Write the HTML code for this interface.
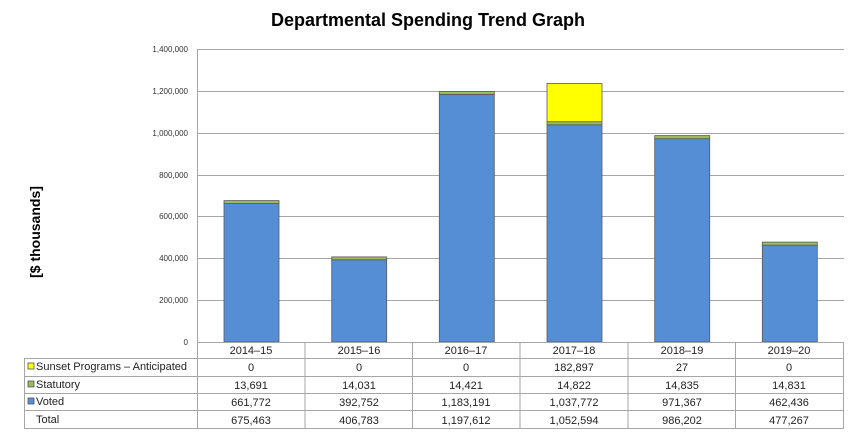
<!DOCTYPE html>
<html><head><meta charset="utf-8"><style>
html,body{margin:0;padding:0;background:#fff;}
svg{display:block;font-family:"Liberation Sans",Arial,sans-serif;}
</style></head><body>
<svg width="857" height="434" viewBox="0 0 857 434" xmlns="http://www.w3.org/2000/svg">
<text x="428" y="26" text-anchor="middle" font-size="18" font-weight="bold" fill="#000">Departmental Spending Trend Graph</text>
<text transform="translate(40,232) rotate(-90)" text-anchor="middle" font-size="14" font-weight="bold" fill="#000">[$ thousands]</text>
<g stroke="#a6a6a6" stroke-width="1">
<line x1="197" y1="49.5" x2="844" y2="49.5"/>
<line x1="197" y1="91.5" x2="844" y2="91.5"/>
<line x1="197" y1="133.5" x2="844" y2="133.5"/>
<line x1="197" y1="175.5" x2="844" y2="175.5"/>
<line x1="197" y1="216.5" x2="844" y2="216.5"/>
<line x1="197" y1="258.5" x2="844" y2="258.5"/>
<line x1="197" y1="300.5" x2="844" y2="300.5"/>
<line x1="197.5" y1="49" x2="197.5" y2="342"/>
</g>
<g font-size="8" fill="#333" text-anchor="end">
<text x="188" y="52">1,400,000</text>
<text x="188" y="94">1,200,000</text>
<text x="188" y="136">1,000,000</text>
<text x="188" y="178">800,000</text>
<text x="188" y="219">600,000</text>
<text x="188" y="261">400,000</text>
<text x="188" y="303">200,000</text>
<text x="188" y="345">0</text>
</g>
<g stroke="#5a5a5a" stroke-width="0.8">
<rect x="224" y="203.5" width="55" height="138.5" fill="#558ed5"/>
<rect x="224" y="200.6" width="55" height="2.9" fill="#9bbb59"/>
<rect x="331.7" y="259.8" width="55" height="82.2" fill="#558ed5"/>
<rect x="331.7" y="256.9" width="55" height="2.9" fill="#9bbb59"/>
<rect x="439.3" y="94.4" width="55" height="247.6" fill="#558ed5"/>
<rect x="439.3" y="91.4" width="55" height="3" fill="#9bbb59"/>
<rect x="547" y="124.8" width="55" height="217.2" fill="#558ed5"/>
<rect x="547" y="121.7" width="55" height="3.1" fill="#9bbb59"/>
<rect x="547" y="83.4" width="55" height="38.3" fill="#ffff00"/>
<rect x="654.7" y="138.7" width="55" height="203.3" fill="#558ed5"/>
<rect x="654.7" y="135.6" width="55" height="3.1" fill="#9bbb59"/>
<rect x="762.3" y="245.2" width="55" height="96.8" fill="#558ed5"/>
<rect x="762.3" y="242.1" width="55" height="3.1" fill="#9bbb59"/>
</g>
<g stroke="#a6a6a6" stroke-width="1" fill="none">
<line x1="197.5" y1="342" x2="197.5" y2="428"/>
<line x1="305" y1="342" x2="305" y2="428"/>
<line x1="412.5" y1="342" x2="412.5" y2="428"/>
<line x1="520" y1="342" x2="520" y2="428"/>
<line x1="628" y1="342" x2="628" y2="428"/>
<line x1="735.5" y1="342" x2="735.5" y2="428"/>
<line x1="843.5" y1="342" x2="843.5" y2="428"/>
<line x1="197" y1="342.5" x2="844" y2="342.5"/>
<line x1="24" y1="358.5" x2="844" y2="358.5"/>
<line x1="24" y1="376.5" x2="844" y2="376.5"/>
<line x1="24" y1="393.5" x2="844" y2="393.5"/>
<line x1="24" y1="410.5" x2="844" y2="410.5"/>
<line x1="24" y1="428.5" x2="844" y2="428.5"/>
<line x1="24.5" y1="358" x2="24.5" y2="428"/>
</g>
<rect x="28" y="363" width="6" height="6" fill="#ffff00" stroke="#555" stroke-width="0.8"/>
<rect x="28" y="381" width="6" height="6" fill="#9bbb59" stroke="#555" stroke-width="0.8"/>
<rect x="28" y="398" width="6" height="6" fill="#558ed5" stroke="#555" stroke-width="0.8"/>
<g font-size="11" fill="#222">
<text x="36" y="370">Sunset Programs – Anticipated</text>
<text x="36" y="388">Statutory</text>
<text x="36" y="405">Voted</text>
<text x="36" y="423">Total</text>
</g>
<g font-size="11" fill="#222" text-anchor="middle">
<text x="251" y="354">2014–15</text><text x="359" y="354">2015–16</text><text x="466" y="354">2016–17</text><text x="574" y="354">2017–18</text><text x="682" y="354">2018–19</text><text x="789" y="354">2019–20</text>
<text x="251" y="371">0</text><text x="359" y="371">0</text><text x="466" y="371">0</text><text x="574" y="371">182,897</text><text x="682" y="371">27</text><text x="789" y="371">0</text>
<text x="251" y="389">13,691</text><text x="359" y="389">14,031</text><text x="466" y="389">14,421</text><text x="574" y="389">14,822</text><text x="682" y="389">14,835</text><text x="789" y="389">14,831</text>
<text x="251" y="406">661,772</text><text x="359" y="406">392,752</text><text x="466" y="406">1,183,191</text><text x="574" y="406">1,037,772</text><text x="682" y="406">971,367</text><text x="789" y="406">462,436</text>
<text x="251" y="424">675,463</text><text x="359" y="424">406,783</text><text x="466" y="424">1,197,612</text><text x="574" y="424">1,052,594</text><text x="682" y="424">986,202</text><text x="789" y="424">477,267</text>
</g>
</svg>
</body></html>
